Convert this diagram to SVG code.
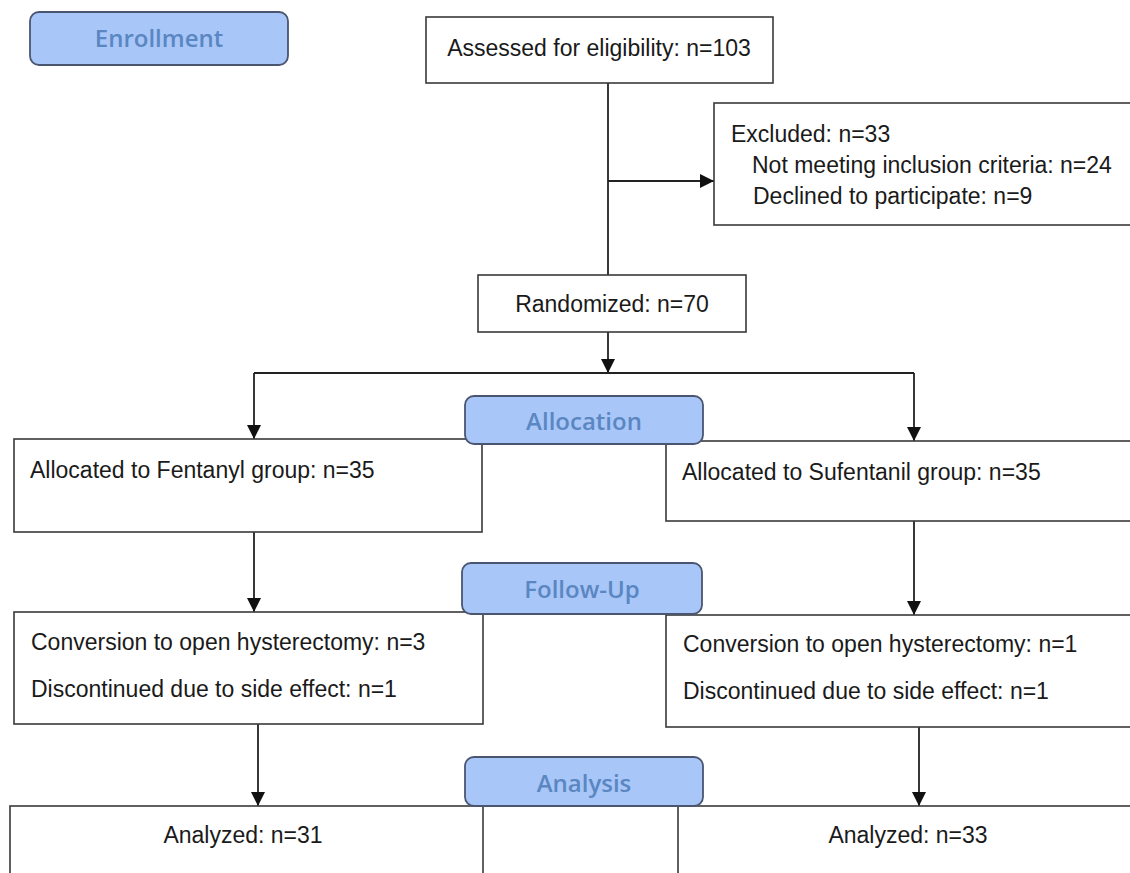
<svg xmlns="http://www.w3.org/2000/svg" width="1130" height="873" viewBox="0 0 1130 873">
<defs>
<style>
.box{fill:#fff;stroke:#3a3a3a;stroke-width:1.6}
.lab{fill:#a8c6f7;stroke:#4a5570;stroke-width:1.8}
.t{font-family:"Liberation Sans",Arial,sans-serif;font-size:23px;fill:#1a1a1a}
.lt{font-family:"Open Sans","Noto Sans",sans-serif;font-weight:600;font-size:24px;fill:#5a86c2;text-anchor:middle}
.c{text-anchor:middle}
.ln{fill:none;stroke:#222;stroke-width:1.8}
</style>
<marker id="ah" viewBox="0 0 14 14" refX="14" refY="7" markerWidth="14" markerHeight="14" markerUnits="userSpaceOnUse" orient="auto">
<path d="M0,0 L14,7 L0,14 Z" fill="#111"/>
</marker>
</defs>
<rect width="1130" height="873" fill="#fff"/>
<g id="connectors">
<line class="ln" x1="608" y1="83" x2="608" y2="275"/>
<line class="ln" x1="608" y1="181" x2="714" y2="181" marker-end="url(#ah)"/>
<line class="ln" x1="608" y1="332" x2="608" y2="373" marker-end="url(#ah)"/>
<line class="ln" x1="254" y1="373" x2="914" y2="373"/>
<line class="ln" x1="254" y1="373" x2="254" y2="439" marker-end="url(#ah)"/>
<line class="ln" x1="914" y1="373" x2="914" y2="441" marker-end="url(#ah)"/>
<line class="ln" x1="254" y1="532" x2="254" y2="612" marker-end="url(#ah)"/>
<line class="ln" x1="914" y1="521" x2="914" y2="615" marker-end="url(#ah)"/>
<line class="ln" x1="258" y1="724" x2="258" y2="806" marker-end="url(#ah)"/>
<line class="ln" x1="919" y1="727" x2="919" y2="806" marker-end="url(#ah)"/>
</g>
<g id="enrollment"><rect class="lab" x="30" y="12" width="258" height="53" rx="9"/><text class="lt" x="159" y="47">Enrollment</text></g>
<g id="assessed"><rect class="box" x="426" y="17" width="347" height="66"/><text class="t c" x="599" y="56">Assessed for eligibility: n=103</text></g>
<g id="excluded"><rect class="box" x="714" y="103" width="430" height="122"/>
<text class="t" x="731" y="142">Excluded: n=33</text>
<text class="t" x="752" y="173">Not meeting inclusion criteria: n=24</text>
<text class="t" x="753" y="204">Declined to participate: n=9</text></g>
<g id="randomized"><rect class="box" x="478" y="275" width="268" height="57"/><text class="t c" x="612" y="312">Randomized: n=70</text></g>
<g id="fentanyl"><rect class="box" x="14" y="439" width="468" height="93"/><text class="t" x="30" y="478">Allocated to Fentanyl group: n=35</text></g>
<g id="sufentanil"><rect class="box" x="666" y="441" width="480" height="80"/><text class="t" x="682" y="480">Allocated to Sufentanil group: n=35</text></g>
<g id="allocation"><rect class="lab" x="465" y="396" width="238" height="48" rx="9"/><text class="lt" x="584" y="430">Allocation</text></g>
<g id="followL"><rect class="box" x="14" y="612" width="469" height="112"/>
<text class="t" x="31" y="650">Conversion to open hysterectomy: n=3</text>
<text class="t" x="31" y="697">Discontinued due to side effect: n=1</text></g>
<g id="followR"><rect class="box" x="666" y="615" width="480" height="112"/>
<text class="t" x="683" y="652">Conversion to open hysterectomy: n=1</text>
<text class="t" x="683" y="699">Discontinued due to side effect: n=1</text></g>
<g id="followup"><rect class="lab" x="462" y="563" width="240" height="51" rx="9"/><text class="lt" x="582" y="598">Follow-Up</text></g>
<g id="analyzedL"><rect class="box" x="10" y="806" width="473" height="90"/><text class="t c" x="243" y="843">Analyzed: n=31</text></g>
<g id="analyzedR"><rect class="box" x="678" y="806" width="470" height="90"/><text class="t c" x="908" y="843">Analyzed: n=33</text></g>
<g id="analysis"><rect class="lab" x="465" y="757" width="238" height="49" rx="9"/><text class="lt" x="584" y="792">Analysis</text></g>
</svg>
